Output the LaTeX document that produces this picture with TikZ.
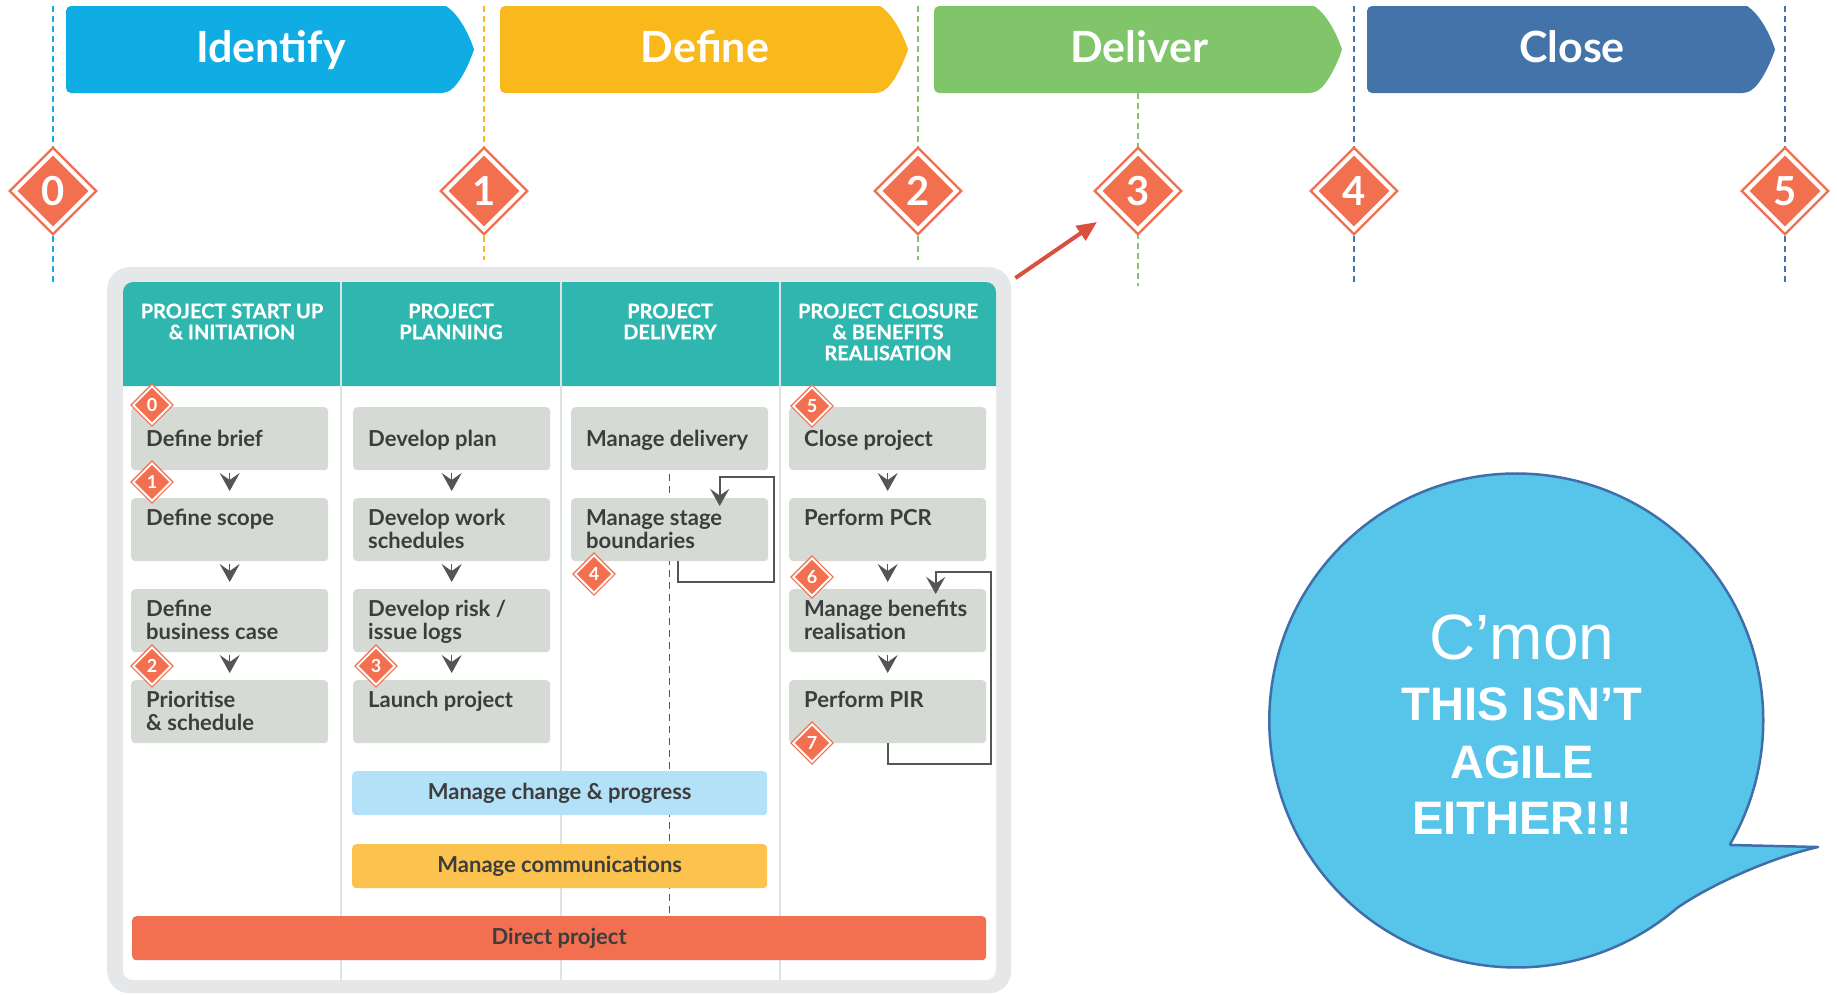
\documentclass[tikz,border=0pt]{standalone}
\usepackage{fontspec}
\setmainfont{Lato}
\newfontfamily\arialf{Liberation Sans}
\newfontfamily\hdrfont{Lato}[BoldFeatures={FakeBold=0.6}]
\usetikzlibrary{shapes.geometric,arrows.meta,calc}
\definecolor{cIdent}{HTML}{0FADE3}
\definecolor{cDefine}{HTML}{F9B81B}
\definecolor{cDeliver}{HTML}{80C569}
\definecolor{cClose}{HTML}{4373A9}
\definecolor{cDiam}{HTML}{F2704F}
\definecolor{cTeal}{HTML}{2FB6AE}
\definecolor{cFrame}{HTML}{E6E7E8}
\definecolor{cBox}{HTML}{D6DAD5}
\definecolor{cTxt}{HTML}{3D3D3D}
\definecolor{cArrow}{HTML}{555555}
\definecolor{cDivider}{HTML}{DDE2E2}
\definecolor{cChange}{HTML}{B3E1F7}
\definecolor{cComms}{HTML}{FBC34E}
\definecolor{cDirect}{HTML}{F26F4F}
\definecolor{cRed}{HTML}{D9503E}
\definecolor{cBubble}{HTML}{57C4EA}
\definecolor{cBubbleLine}{HTML}{3F6FAA}
\begin{document}
\begin{tikzpicture}[x=1pt,y=-1pt,
  phase/.style={line width=2pt, dash pattern=on 6pt off 4pt},
  bannertxt/.style={text=white, font={\bfseries\fontsize{43}{43}\selectfont}, anchor=base, inner sep=0},
  bdia/.style={diamond, aspect=1, minimum size=78pt, inner sep=0, fill=cDiam, draw=cDiam, line width=2.5pt, double=white, double distance=4pt, text=white, font={\bfseries\fontsize{40}{40}\selectfont}},
  sdia/.style={diamond, aspect=1, minimum size=38pt, inner sep=0, fill=cDiam, draw=cDiam, line width=1.3pt, double=white, double distance=1.8pt, text=white, font={\bfseries\fontsize{18}{18}\selectfont}},
  hdr/.style={anchor=north, align=center, inner sep=0, text=white, font={\hdrfont\bfseries\fontsize{20}{21}\selectfont}},
  gbox/.style={rectangle, fill=cBox, rounded corners=4pt, minimum width=197pt, minimum height=63pt, anchor=north west, inner sep=0},
  btxt/.style={anchor=north west, align=left, inner sep=0, text=cTxt, font={\bfseries\fontsize{22}{23}\selectfont}},
  bar/.style={rectangle, rounded corners=4pt, minimum width=415pt, minimum height=44pt, anchor=north west, inner sep=0, text=cTxt, font={\bfseries\fontsize{22}{23}\selectfont}},
  chev/.style={draw=cArrow, line width=1pt, -{Stealth[length=18pt,width=20pt,inset=7pt]}},
  loopl/.style={draw=cArrow, line width=2pt, -{Stealth[length=17pt,width=19pt,inset=6.5pt]}},
  dashl/.style={draw=cArrow, line width=1.5pt, dash pattern=on 7pt off 5pt},
  divider/.style={draw=cDivider, line width=1.5pt},
  bub/.style={anchor=base, inner sep=0, text=white}
]
\useasboundingbox (0,0) rectangle (1837,994);

% phase guide lines
\draw[phase, cIdent] (53,6) -- (53,286);
\draw[phase, cDefine] (484,6) -- (484,260);
\draw[phase, cDeliver] (918,6) -- (918,260);
\draw[phase, cDeliver] (1138,93) -- (1138,286);
\draw[phase, cClose] (1354,6) -- (1354,286);
\draw[phase, cClose] (1785,6) -- (1785,286);

% banners
\foreach \L/\col/\txt/\nm in {66/cIdent/Identify/bI, 500/cDefine/Define/bD, 934/cDeliver/Deliver/bV, 1367/cClose/Close/bC}{
  \fill[\col] ({\L+190},6) [rounded corners=5pt] -- (\L,6) -- (\L,93) -- ({\L+380},93) [sharp corners]
     .. controls ({\L+394},84) and ({\L+404},62) .. ({\L+408},49.5)
     .. controls ({\L+404},37) and ({\L+394},15) .. ({\L+380},6) -- cycle;
  \node[bannertxt] (\nm) at ({\L+205},62) {\txt};
}

% big milestone diamonds
\node[bdia] (g0) at (53,191) {0};
\node[bdia] (g1) at (484,191) {1};
\node[bdia] (g2) at (918,191) {2};
\node[bdia] (g3) at (1138,191) {3};
\node[bdia] (g4) at (1354,191) {4};
\node[bdia] (g5) at (1785,191) {5};

% table frame
\node[fill=cFrame, rounded corners=22pt, minimum width=904pt, minimum height=726pt, anchor=north west, inner sep=0] (frame) at (107,267) {};
\fill[white, rounded corners=10pt] (123,282) rectangle (996,980);
\fill[cTeal] (123,386) [rounded corners=10pt] -- (123,282) -- (996,282) [sharp corners] -- (996,386) -- cycle;
\draw[divider] (341,282) -- (341,980);
\draw[divider] (561,282) -- (561,980);
\draw[divider] (780,282) -- (780,980);

% headers
\node[hdr] (h1) at (232,302) {\rule{0pt}{16pt}PROJECT START UP\\\& INITIATION};
\node[hdr] (h2) at (451,302) {\rule{0pt}{16pt}PROJECT\\PLANNING};
\node[hdr] (h3) at (670,302) {\rule{0pt}{16pt}PROJECT\\DELIVERY};
\node[hdr] (h4) at (888,302) {\rule{0pt}{16pt}PROJECT CLOSURE\\\& BENEFITS\\REALISATION};

% dashed delivery line (behind boxes)
\coordinate (dashTop) at (669.5,474);
\coordinate (dashBot) at (669.5,916);
\draw[dashl] (dashTop) -- (dashBot);

% boxes column 1
\node[gbox] (a1) at (131,407) {};
\node[gbox] (a2) at (131,498) {};
\node[gbox] (a3) at (131,589) {};
\node[gbox] (a4) at (131,680) {};
% column 2
\node[gbox] (p1) at (353,407) {};
\node[gbox] (p2) at (353,498) {};
\node[gbox] (p3) at (353,589) {};
\node[gbox] (p4) at (353,680) {};
% column 3
\node[gbox] (d1) at (571,407) {};
\node[gbox] (d2) at (571,498) {};
% column 4
\node[gbox] (c1) at (789,407) {};
\node[gbox] (c2) at (789,498) {};
\node[gbox] (c3) at (789,589) {};
\node[gbox] (c4) at (789,680) {};

% box texts
\node[btxt] (ta1) at ([shift={(15,21)}]a1.north west) {\rule{0pt}{18pt}Define brief};
\node[btxt] (ta2) at ([shift={(15,9)}]a2.north west) {\rule{0pt}{18pt}Define scope};
\node[btxt] (ta3) at ([shift={(15,9)}]a3.north west) {\rule{0pt}{18pt}Define\\business case};
\node[btxt] (ta4) at ([shift={(15,9)}]a4.north west) {\rule{0pt}{18pt}Prioritise\\\& schedule};
\node[btxt] (tp1) at ([shift={(15,21)}]p1.north west) {\rule{0pt}{18pt}Develop plan};
\node[btxt] (tp2) at ([shift={(15,9)}]p2.north west) {\rule{0pt}{18pt}Develop work\\schedules};
\node[btxt] (tp3) at ([shift={(15,9)}]p3.north west) {\rule{0pt}{18pt}Develop risk /\\issue logs};
\node[btxt] (tp4) at ([shift={(15,9)}]p4.north west) {\rule{0pt}{18pt}Launch project};
\node[btxt] (td1) at ([shift={(15,21)}]d1.north west) {\rule{0pt}{18pt}Manage delivery};
\node[btxt] (td2) at ([shift={(15,9)}]d2.north west) {\rule{0pt}{18pt}Manage stage\\boundaries};
\node[btxt] (tc1) at ([shift={(15,21)}]c1.north west) {\rule{0pt}{18pt}Close project};
\node[btxt] (tc2) at ([shift={(15,9)}]c2.north west) {\rule{0pt}{18pt}Perform PCR};
\node[btxt] (tc3) at ([shift={(15,9)}]c3.north west) {\rule{0pt}{18pt}Manage benefits\\realisation};
\node[btxt] (tc4) at ([shift={(15,9)}]c4.north west) {\rule{0pt}{18pt}Perform PIR};

% chevron connectors
\foreach \u/\v in {a1/a2, a2/a3, a3/a4, p1/p2, p2/p3, p3/p4, c1/c2, c2/c3, c3/c4}{
  \draw[chev] ($(\u.south)+(0,3)$) -- ($(\v.north)+(0,-7)$);
}

% loops
\draw[loopl] ($(d2.south)+(8,0)$) |- (774,582) -- (774,477) -| ($(d2.north)+(50,8)$);
\draw[loopl] (c4.south) |- (991,764) -- (991,572) -| ($(c3.north)+(48,5)$);

% bars
\node[bar, fill=cChange] (mc) at (352,771) {Manage change \& progress};
\node[bar, fill=cComms] (mcm) at (352,844) {Manage communications};
\node[bar, fill=cDirect, minimum width=854pt] (dp) at (132,916) {Direct project};

% small diamonds
\node[sdia] (s0) at (152,405) {0};
\node[sdia] (s1) at (152,482) {1};
\node[sdia] (s2) at (152,666) {2};
\node[sdia] (s3) at (376,666) {3};
\node[sdia] (s4) at (594,574) {4};
\node[sdia] (s5) at (812,406) {5};
\node[sdia] (s6) at (812,577) {6};
\node[sdia] (s7) at (812,743) {7};

% red arrow
\coordinate (arrS) at ($(frame.north east)+(4,11)$);
\draw[cRed, line width=4pt, -{Triangle[length=20pt,width=17pt]}] (arrS) -- ($(g3.center)+(-41,31)$);

% speech bubble
\draw[fill=cBubble, draw=cBubbleLine, line width=2.5pt, line join=round]
  (1731,845) -- (1818,847) .. controls (1770,858) and (1710,885) .. (1677,908)
  arc[start angle=49.4, end angle=390.1, radius=247] -- cycle;
\node[bub, font={\arialf\fontsize{64}{64}\selectfont}] (q1) at (1522,659) {C’mon};
\node[bub, font={\arialf\bfseries\fontsize{47}{47}\selectfont}] (q2) at (1522,720) {THIS ISN’T};
\node[bub, font={\arialf\bfseries\fontsize{47}{47}\selectfont}] (q3) at (1522,778) {AGILE};
\node[bub, font={\arialf\bfseries\fontsize{47}{47}\selectfont}] (q4) at (1522,834) {EITHER!!!};
\end{tikzpicture}
\end{document}
